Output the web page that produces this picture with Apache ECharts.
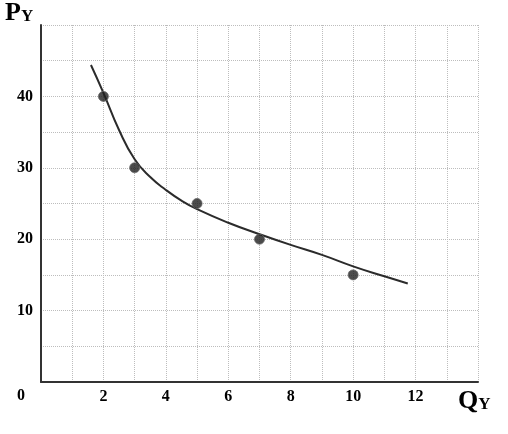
<!DOCTYPE html>
<html>
<head>
<meta charset="utf-8">
<script src="https://cdn.jsdelivr.net/npm/echarts@6/dist/echarts.min.js"></script>
<style>
  html, body { margin: 0; padding: 0; background: #fff; }
  #chart { width: 508px; height: 434px; }
</style>
</head>
<body>
<div id="chart"></div>
<script>
// observed points (Qy, Py)
var pointsQ = [2, 3, 5, 7, 10]
var pointsP = [40, 30, 25, 20, 15]
// fitted demand curve
var curveQ = [1.6, 2, 2.5, 3, 3.5, 4, 4.5, 5, 6, 7, 8, 9, 10, 11, 11.75]
var curveP = [44.4, 40.5, 35.3, 31.2, 28.7, 26.9, 25.4, 24.2, 22.3, 20.7, 19.2, 17.8, 16.2, 14.8, 13.8]
var xTickLabels = ['2', '4', '6', '8', '10', '12']
var yTickLabels = ['10', '20', '30', '40']

var labelFont = {
  color: '#000',
  fontFamily: 'Liberation Serif',
  fontWeight: 'bold',
  fontSize: 16
}

var myChart = echarts.init(document.getElementById('chart'))
myChart.setOption({
  animation: false,
  grid: { left: 41, right: 30, top: 25, bottom: 52 },
  xAxis: {
    type: 'value',
    min: 0,
    max: 14,
    interval: 1,
    axisLine: { lineStyle: { color: '#333', width: 2 } },
    axisTick: { show: false },
    splitLine: { lineStyle: { color: '#bdbdbd', type: 'dotted', width: 1 } },
    axisLabel: Object.assign({
      margin: 7,
      formatter: function (v) {
        return xTickLabels.indexOf(String(v)) >= 0 ? String(v) : ''
      }
    }, labelFont)
  },
  yAxis: {
    type: 'value',
    min: 0,
    max: 50,
    interval: 5,
    axisLine: { show: true, lineStyle: { color: '#333', width: 2 } },
    axisTick: { show: false },
    splitLine: { lineStyle: { color: '#bdbdbd', type: 'dotted', width: 1 } },
    axisLabel: Object.assign({
      margin: 8,
      formatter: function (v) {
        return yTickLabels.indexOf(String(v)) >= 0 ? String(v) : ''
      }
    }, labelFont)
  },
  graphic: [
    {
      type: 'text', left: 17, top: 388,
      style: { text: '0', fill: '#000', font: 'bold 16px "Liberation Serif"' }
    },
    {
      type: 'text', left: 5, top: 0,
      style: {
        text: '{a|P}{b|Y}',
        rich: {
          a: { fontFamily: 'Liberation Serif', fontWeight: 'bold', fontSize: 26, fill: '#000' },
          b: { fontFamily: 'Liberation Serif', fontWeight: 'bold', fontSize: 17, fill: '#000', padding: [7, 0, 0, 0] }
        }
      }
    },
    {
      type: 'text', left: 458, top: 388,
      style: {
        text: '{a|Q}{b|Y}',
        rich: {
          a: { fontFamily: 'Liberation Serif', fontWeight: 'bold', fontSize: 26, fill: '#000' },
          b: { fontFamily: 'Liberation Serif', fontWeight: 'bold', fontSize: 17, fill: '#000', padding: [7, 0, 0, 0] }
        }
      }
    }
  ],
  series: [
    {
      name: 'curve',
      type: 'line',
      smooth: 0.5,
      smoothMonotone: 'none',
      showSymbol: false,
      lineStyle: { color: '#2b2b2b', width: 2 },
      data: curveQ.map(function (q, i) { return [q, curveP[i]] })
    },
    {
      name: 'points',
      type: 'scatter',
      symbol: 'circle',
      symbolSize: 10,
      itemStyle: { color: '#1e1e1e', borderColor: '#666', borderWidth: 1 },
      data: pointsQ.map(function (q, i) { return [q, pointsP[i]] }),
      z: 3
    }
  ]
})
</script>
</body>
</html>
